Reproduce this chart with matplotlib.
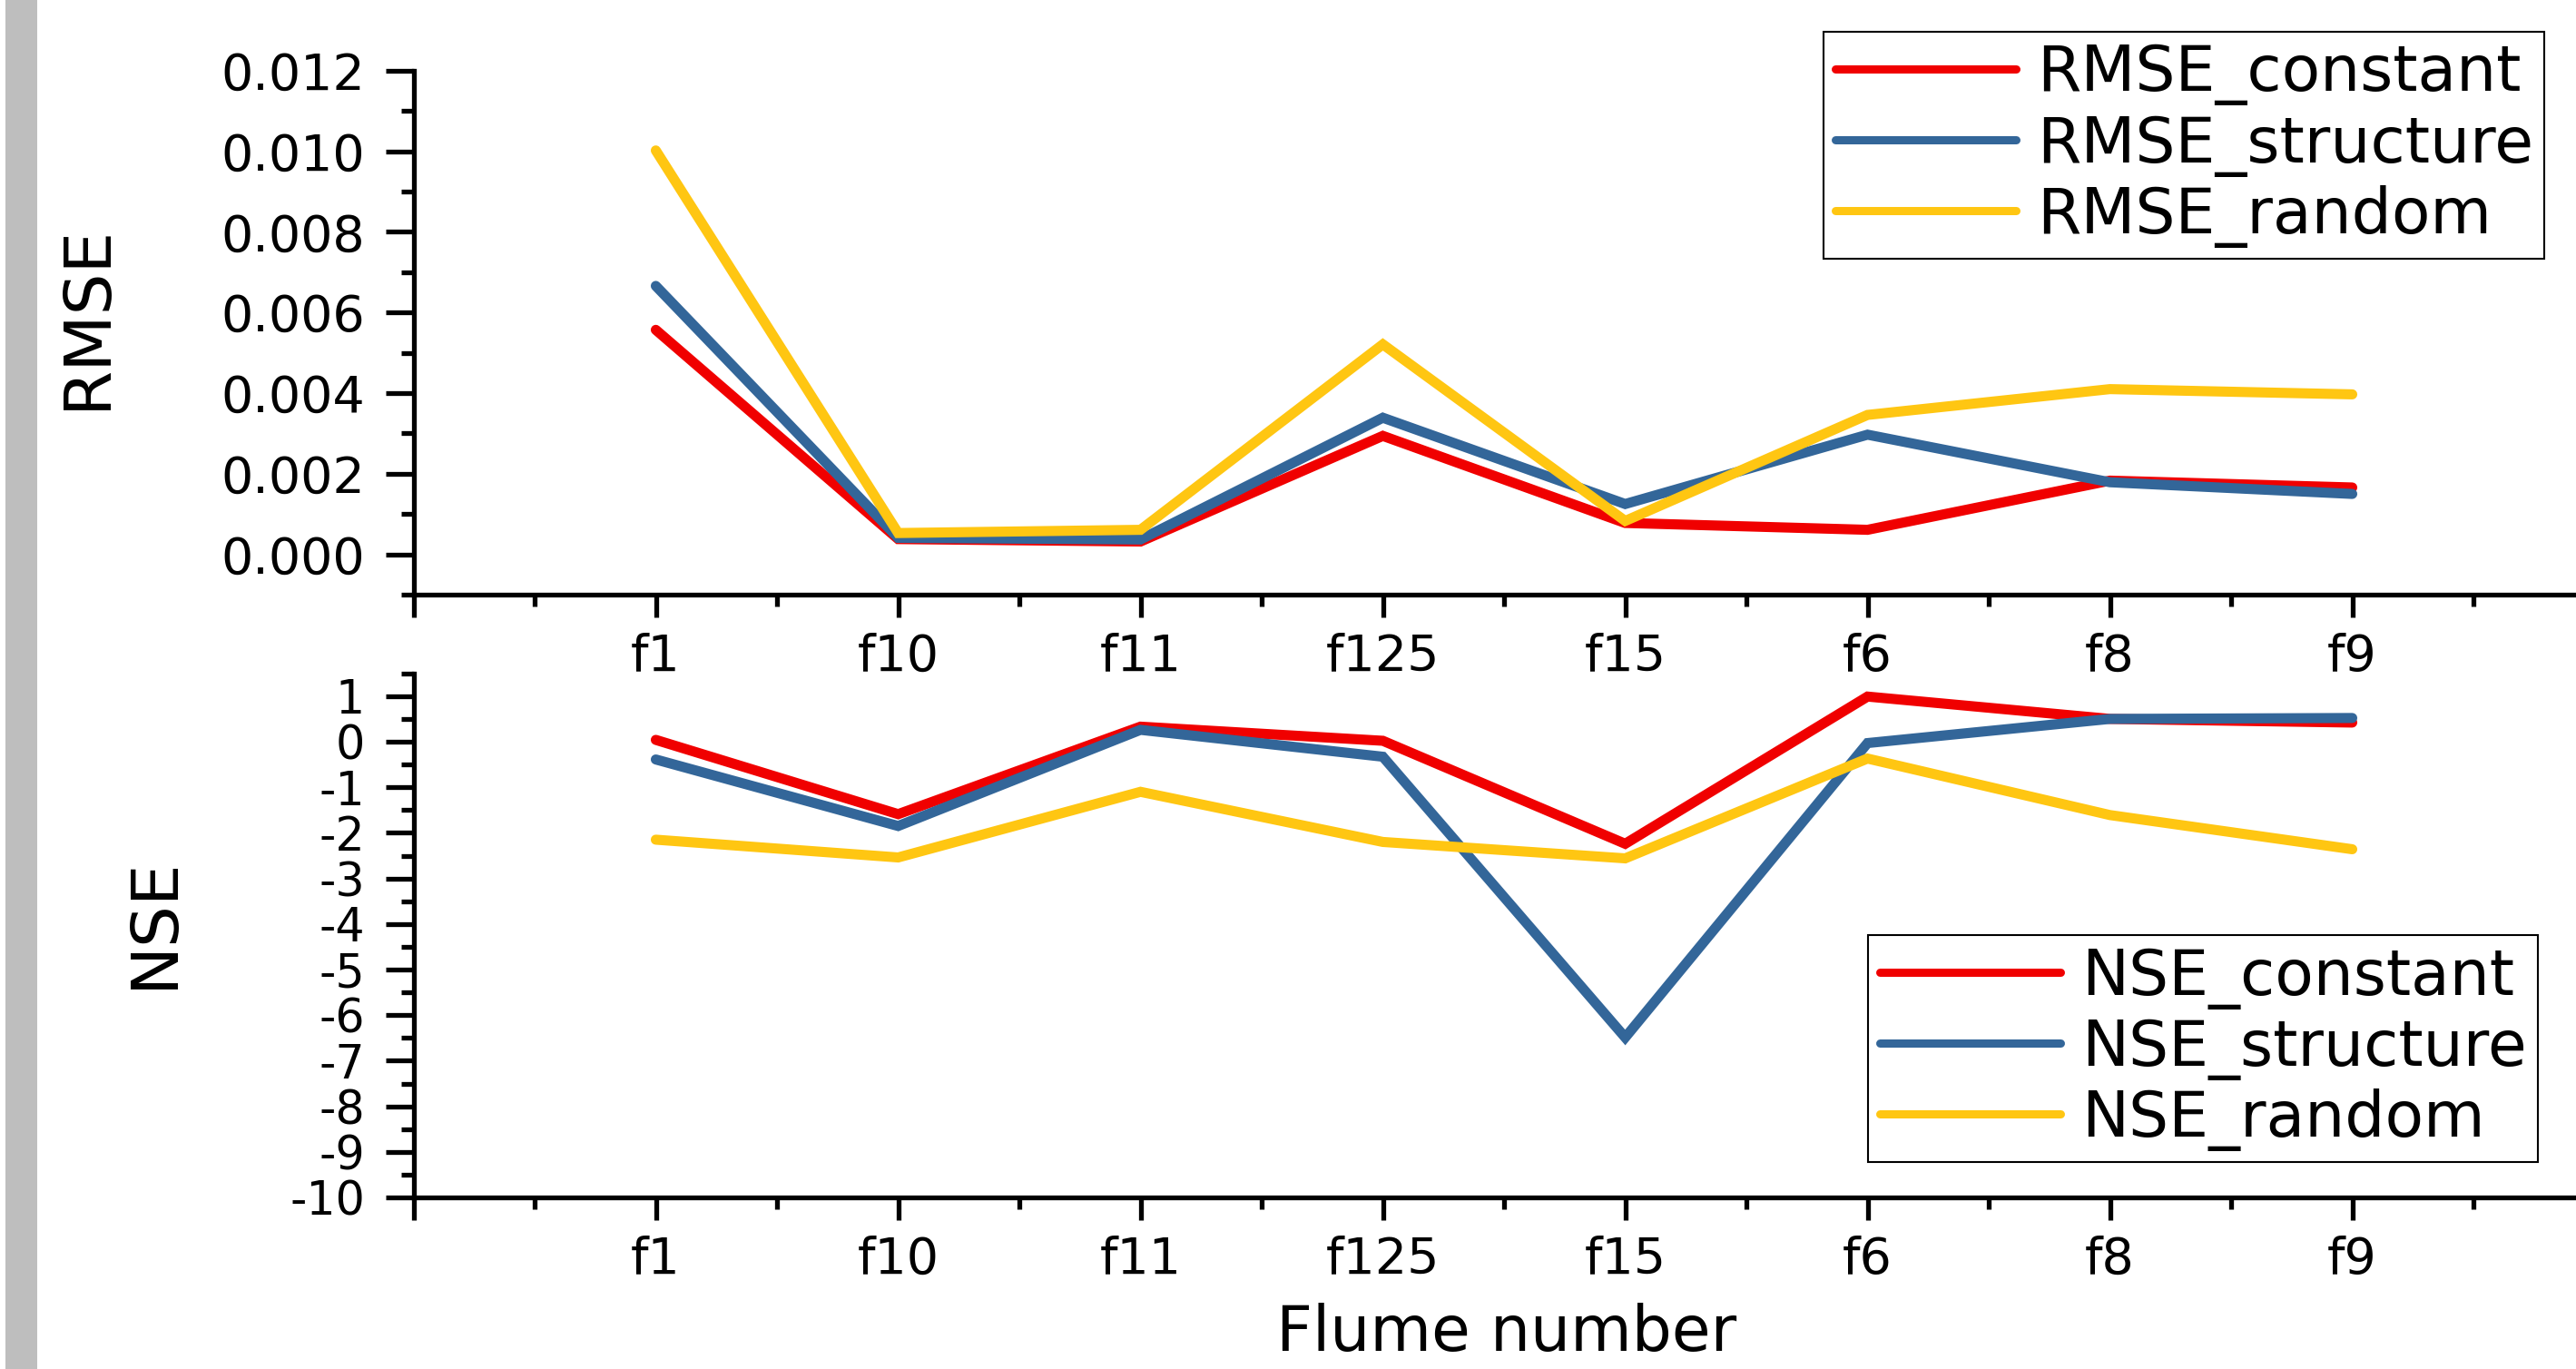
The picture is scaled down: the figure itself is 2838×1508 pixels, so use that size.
import matplotlib
matplotlib.use("Agg")
import matplotlib.pyplot as plt
from matplotlib.ticker import MultipleLocator, FormatStrFormatter, FixedLocator, FixedFormatter
from matplotlib.patches import Rectangle
import numpy as np

plt.rcParams['font.family'] = ['DejaVu Sans']
plt.rcParams['axes.unicode_minus'] = False

# ---------------- data ----------------
flumes = ['f1', 'f10', 'f11', 'f125', 'f15', 'f6', 'f8', 'f9']

rmse_constant = [0.00557, 0.00038, 0.00032, 0.00294, 0.00078, 0.00061, 0.00183, 0.00166]
rmse_structure = [0.00666, 0.00041, 0.00037, 0.00339, 0.00125, 0.00297, 0.00179, 0.00150]
rmse_random = [0.01002, 0.00053, 0.00061, 0.00521, 0.00083, 0.00346, 0.00410, 0.00397]

nse_constant = [0.04, -1.59, 0.33, 0.02, -2.24, 0.99, 0.50, 0.42]
nse_structure = [-0.39, -1.85, 0.26, -0.33, -6.49, -0.03, 0.50, 0.52]
nse_random = [-2.15, -2.54, -1.10, -2.20, -2.56, -0.37, -1.61, -2.36]

rmse_labels = ['RMSE_constant', 'RMSE_structure', 'RMSE_random']
nse_labels = ['NSE_constant', 'NSE_structure', 'NSE_random']
colors = ['#F00000', '#336699', '#FFC612']

# ---------------- layout ----------------
W, H = 2838, 1508
fig = plt.figure(figsize=(W / 100, H / 100), dpi=100)


def fx(px):
    return px / W


def fy(py):
    return 1 - py / H


fig.add_artist(Rectangle((fx(6), 0), fx(35), 1, transform=fig.transFigure,
                         facecolor='#BEBEBE', edgecolor='none', zorder=0))

left_px, right_px = 455.5, 2858.5
ax1 = fig.add_axes([fx(left_px), fy(655.1), (right_px - left_px) / W, (655.1 - 77.8) / H])
ax2 = fig.add_axes([fx(left_px), fy(1319), (right_px - left_px) / W, (1319 - 741.7) / H])

x = np.arange(1, len(flumes) + 1)

LW = 8
for vals, lab, c in zip([rmse_constant, rmse_structure, rmse_random], rmse_labels, colors):
    ax1.plot(x, vals, color=c, lw=LW, label=lab, solid_capstyle='round', solid_joinstyle='miter')
for vals, lab, c in zip([nse_constant, nse_structure, nse_random], nse_labels, colors):
    ax2.plot(x, vals, color=c, lw=LW, label=lab, solid_capstyle='round', solid_joinstyle='miter')

tick_fs = 40
for ax in (ax1, ax2):
    ax.set_facecolor('none')
    ax.spines['top'].set_visible(False)
    ax.spines['right'].set_visible(False)
    ax.spines['left'].set_linewidth(3.8)
    ax.spines['bottom'].set_linewidth(3.8)
    ax.set_xlim(0, 9)
    ax.xaxis.set_major_locator(FixedLocator(list(range(0, 10))))
    ax.xaxis.set_major_formatter(FixedFormatter([''] + flumes + ['']))
    ax.xaxis.set_minor_locator(MultipleLocator(0.5))
    ax.tick_params(axis='x', which='major', direction='out', length=18, width=3.8,
                   pad=12, labelsize=tick_fs)
    ax.tick_params(axis='x', which='minor', direction='out', length=9, width=3.8)
    ax.tick_params(axis='y', which='major', direction='out', length=22.5, width=3.8,
                   pad=16, labelsize=tick_fs)
    ax.tick_params(axis='y', which='minor', direction='out', length=10, width=3.8)

ax1.set_ylim(-0.001, 0.012)
ax1.yaxis.set_major_locator(MultipleLocator(0.002))
ax1.yaxis.set_minor_locator(MultipleLocator(0.001))
ax1.yaxis.set_major_formatter(FormatStrFormatter('%.3f'))

ax2.set_ylim(-10, 1.5)
ax2.yaxis.set_major_locator(MultipleLocator(1))
ax2.yaxis.set_minor_locator(MultipleLocator(0.5))
ax2.yaxis.set_major_formatter(FormatStrFormatter('%d'))
ax2.tick_params(axis='y', which='major', labelsize=36.5)

label_fs = 52
ax1.set_ylabel('RMSE', fontsize=label_fs)
ax1.yaxis.label.set_va('center')
ax1.yaxis.set_label_coords(-0.1496, 0.531)
ax2.set_ylabel('NSE', fontsize=label_fs)
ax2.yaxis.label.set_va('center')
ax2.yaxis.set_label_coords(-0.1188, 0.525)
ax2.set_xlabel('Flume number', fontsize=50)
ax2.xaxis.label.set_va('baseline')
ax2.xaxis.set_label_coords(0.501, -0.2927)

leg_kw = dict(loc='upper left', bbox_transform=fig.transFigure, fontsize=50,
              frameon=True, fancybox=False, edgecolor='black', framealpha=1,
              borderpad=0.18, labelspacing=0.13, handlelength=2.87,
              handletextpad=0.33, borderaxespad=0)
leg1 = ax1.legend(bbox_to_anchor=(fx(2009), fy(35)), **leg_kw)
leg2 = ax2.legend(bbox_to_anchor=(fx(2058), fy(1030)), **leg_kw)
for leg in (leg1, leg2):
    leg.get_frame().set_linewidth(1.5)
    for h in leg.get_lines():
        h.set_linewidth(6.5)

fig.savefig('out.png', dpi=100)
